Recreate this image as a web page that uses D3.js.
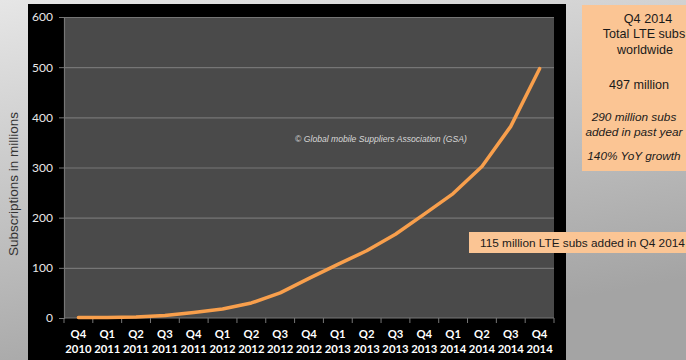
<!DOCTYPE html>
<html>
<head>
<meta charset="utf-8">
<script src="https://cdn.jsdelivr.net/npm/d3@7/dist/d3.min.js"></script>
<style>
  html, body { margin: 0; padding: 0; }
  body { width: 686px; height: 360px; overflow: hidden; }
  svg { display: block; }
</style>
</head>
<body>
<script>
// quarters on the x axis
const quarters = ['Q4', 'Q1', 'Q2', 'Q3', 'Q4', 'Q1', 'Q2', 'Q3', 'Q4', 'Q1', 'Q2', 'Q3', 'Q4', 'Q1', 'Q2', 'Q3', 'Q4']
const years = ['2010', '2011', '2011', '2011', '2011', '2012', '2012', '2012', '2012', '2013', '2013', '2013', '2013', '2014', '2014', '2014', '2014']
// LTE subscriptions, millions
const subs = [1, 1, 2, 5, 11, 18, 30, 50, 79, 107, 134, 167, 207, 248, 302, 382, 497]
const yTicks = [0, 100, 200, 300, 400, 500, 600]

const panelLines = ['Q4 2014', 'Total LTE subs', 'worldwide', '497 million']
const panelNotes = ['290 million subs', 'added in past year', '140% YoY growth']
const callout = '115 million LTE subs added in Q4 2014'
const credit = '\u00A9 Global mobile Suppliers Association (GSA)'

const W = 686, H = 360
const plot = {left: 64, right: 554, top: 17, bottom: 318}

const svg = d3.select('body').append('svg')
  .attr('width', W)
  .attr('height', H)

// grey slide background
const defs = svg.append('defs')
const grad = defs.append('linearGradient')
  .attr('id', 'bg')
  .attr('x1', 0).attr('y1', 0).attr('x2', 0.35).attr('y2', 1)
grad.append('stop').attr('offset', 0).attr('stop-color', '#e6e6e6')
grad.append('stop').attr('offset', 1).attr('stop-color', '#a4a4a4')
svg.append('rect').attr('width', W).attr('height', H).attr('fill', 'url(#bg)')

// black chart frame
svg.append('rect')
  .attr('x', 28).attr('y', 4)
  .attr('width', 538).attr('height', H - 4)
  .attr('fill', '#000')

// plot area
svg.append('rect')
  .attr('x', plot.left).attr('y', plot.top)
  .attr('width', plot.right - plot.left).attr('height', plot.bottom - plot.top)
  .attr('fill', '#4a4a4a')

const x = d3.scaleBand()
  .domain(d3.range(subs.length))
  .range([plot.left, plot.right])

const y = d3.scaleLinear()
  .domain([0, 600])
  .range([plot.bottom, plot.top])

// gridlines
svg.append('g')
  .attr('transform', `translate(${plot.left},0)`)
  .call(d3.axisLeft(y).tickValues(yTicks.slice(1)).tickSize(-(plot.right - plot.left)).tickFormat(''))
  .call(g => g.select('.domain').remove())
  .selectAll('line')
  .attr('stroke', '#767676')
  .attr('stroke-width', 1.2)

// y axis
const yAxis = svg.append('g')
  .attr('transform', `translate(${plot.left},0)`)
  .call(d3.axisLeft(y).tickValues(yTicks).tickSize(5).tickPadding(6))
yAxis.select('.domain').attr('stroke', '#767676').attr('stroke-width', 1.2)
yAxis.selectAll('line').attr('stroke', '#767676')
yAxis.selectAll('text')
  .attr('fill', '#e8e8e8')
  .style('font', '12px Lato, sans-serif')

// x axis baseline and boundary ticks
svg.append('line')
  .attr('x1', plot.left).attr('x2', plot.right)
  .attr('y1', plot.bottom).attr('y2', plot.bottom)
  .attr('stroke', '#767676').attr('stroke-width', 1.2)

const bounds = d3.range(subs.length).map(i => x(i)).concat([plot.right])
svg.selectAll('.xtick')
  .data(bounds)
  .enter()
  .append('line')
  .attr('x1', d => d).attr('x2', d => d)
  .attr('y1', plot.bottom).attr('y2', plot.bottom + 5)
  .attr('stroke', '#767676')

const xl = svg.selectAll('.xlab')
  .data(quarters)
  .enter()
  .append('text')
  .attr('text-anchor', 'middle')
  .attr('fill', '#fff')
  .style('font', 'bold 11.3px Lato, sans-serif')
xl.append('tspan')
  .attr('x', (d, i) => x(i) + x.bandwidth() / 2)
  .attr('y', 338)
  .text(d => d)
xl.append('tspan')
  .attr('x', (d, i) => x(i) + x.bandwidth() / 2)
  .attr('y', 353)
  .text((d, i) => years[i])

// y title
svg.append('text')
  .attr('transform', 'translate(18,184) rotate(-90)')
  .attr('text-anchor', 'middle')
  .attr('fill', '#333')
  .style('font', '13.5px "Liberation Sans", Arial, sans-serif')
  .text('Subscriptions in millions')

// copyright note
svg.append('text')
  .attr('x', 381).attr('y', 142)
  .attr('text-anchor', 'middle')
  .attr('fill', '#d8d8d8')
  .style('font', 'italic 8.6px "Liberation Sans", Arial, sans-serif')
  .text(credit)

// the series
const line = d3.line()
  .x((d, i) => x(i) + x.bandwidth() / 2)
  .y(d => y(d))

svg.append('path')
  .datum(subs)
  .attr('d', line)
  .attr('fill', 'none')
  .attr('stroke', '#f89f4c')
  .attr('stroke-width', 3.5)
  .attr('stroke-linejoin', 'round')
  .attr('stroke-linecap', 'round')

// right summary panel
svg.append('rect')
  .attr('x', 582).attr('y', 5)
  .attr('width', 110).attr('height', 166)
  .attr('fill', '#fbc594')

const panelY = [23, 38, 54, 89]
const panelX = [648, 644, 645, 639]
svg.selectAll('.pl')
  .data(panelLines)
  .enter()
  .append('text')
  .attr('x', (d, i) => panelX[i])
  .attr('y', (d, i) => panelY[i])
  .attr('text-anchor', 'middle')
  .attr('fill', '#1a1a1a')
  .style('font', '12.6px "Liberation Sans", Arial, sans-serif')
  .text(d => d)

const noteY = [121, 136, 160]
svg.selectAll('.pn')
  .data(panelNotes)
  .enter()
  .append('text')
  .attr('x', 634)
  .attr('y', (d, i) => noteY[i])
  .attr('text-anchor', 'middle')
  .attr('fill', '#1a1a1a')
  .style('font', 'italic 11.8px "Liberation Sans", Arial, sans-serif')
  .text(d => d)

// callout
svg.append('rect')
  .attr('x', 469).attr('y', 232)
  .attr('width', 220).attr('height', 21)
  .attr('fill', '#fbc594')
svg.append('text')
  .attr('x', 480).attr('y', 247)
  .attr('fill', '#1a1a1a')
  .style('font', '11.8px "Liberation Sans", Arial, sans-serif')
  .text(callout)
</script>
</body>
</html>
